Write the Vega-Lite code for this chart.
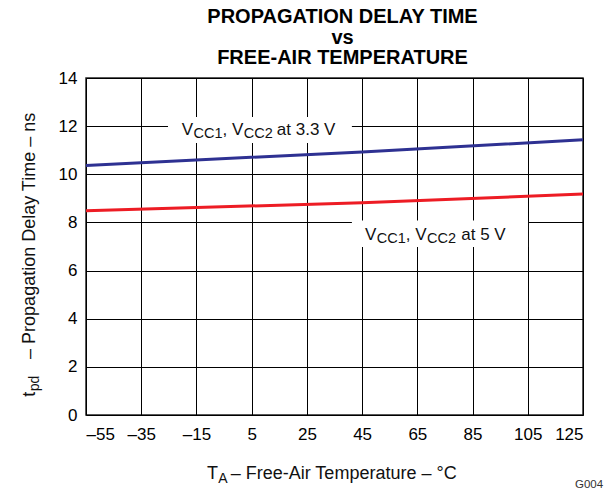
{
  "$schema": "https://vega.github.io/schema/vega-lite/v6.json",
  "width": 497,
  "height": 337,
  "autosize": {"type": "none"},
  "padding": {"left": 86, "top": 78, "right": 33, "bottom": 76},
  "background": "white",
  "title": {
    "text": ["PROPAGATION DELAY TIME", "vs", "FREE-AIR TEMPERATURE"],
    "font": "Liberation Sans",
    "fontSize": 20,
    "fontWeight": "bold",
    "lineHeight": 20.5,
    "anchor": "middle",
    "frame": "group",
    "dx": 8,
    "offset": 1,
    "color": "black"
  },
  "config": {
    "font": "Liberation Sans",
    "view": {"stroke": "#222222", "strokeWidth": 1.5},
    "axis": {
      "grid": true,
      "gridColor": "black",
      "gridWidth": 1,
      "gridOpacity": 1,
      "ticks": false,
      "domain": false,
      "labelFont": "Liberation Sans",
      "labelFontSize": 17,
      "labelColor": "black",
      "title": null
    },
    "axisX": {"labelPadding": 11},
    "axisY": {"labelPadding": 9}
  },
  "datasets": {
    "lines": [
      {"x": -55, "y": 10.37, "series": "VCC1, VCC2 at 3.3 V"},
      {"x": 45, "y": 10.93, "series": "VCC1, VCC2 at 3.3 V"},
      {"x": 125, "y": 11.43, "series": "VCC1, VCC2 at 3.3 V"},
      {"x": -55, "y": 8.48, "series": "VCC1, VCC2 at 5 V"},
      {"x": 45, "y": 8.82, "series": "VCC1, VCC2 at 5 V"},
      {"x": 125, "y": 9.18, "series": "VCC1, VCC2 at 5 V"}
    ],
    "boxes": [
      {"x": -25.3, "x2": 41.3, "y": 11.3, "y2": 12.38},
      {"x": 41.3, "x2": 105.1, "y": 6.98, "y2": 8.08}
    ],
    "texts": [
      {"g": "ann", "sub": false, "t": "V", "x": -20.3, "y": 11.63},
      {"g": "ann", "sub": true, "t": "CC1", "x": -16.03, "y": 11.63},
      {"g": "ann", "sub": false, "t": ",", "x": -5.52, "y": 11.63},
      {"g": "ann", "sub": false, "t": "V", "x": -2.12, "y": 11.63},
      {"g": "ann", "sub": true, "t": "CC2", "x": 2.16, "y": 11.63},
      {"g": "ann", "sub": false, "t": "at 3.3 V", "x": 14.11, "y": 11.63},
      {"g": "ann", "sub": false, "t": "V", "x": 46.05, "y": 7.27},
      {"g": "ann", "sub": true, "t": "CC1", "x": 50.32, "y": 7.27},
      {"g": "ann", "sub": false, "t": ",", "x": 60.83, "y": 7.27},
      {"g": "ann", "sub": false, "t": "V", "x": 64.23, "y": 7.27},
      {"g": "ann", "sub": true, "t": "CC2", "x": 68.51, "y": 7.27},
      {"g": "ann", "sub": false, "t": "at 5 V", "x": 80.9, "y": 7.27},
      {"g": "ytitle", "sub": false, "t": "t", "x": -73.5, "y": 0.76},
      {"g": "ytitle", "sub": true, "t": "pd", "x": -73.5, "y": 0.99},
      {"g": "ytitle", "sub": false, "t": "– Propagation Delay Time – ns", "x": -73.5, "y": 2.33},
      {"g": "xtitle", "sub": false, "t": "T", "x": -11.2, "y": -2.66},
      {"g": "xtitle", "sub": true, "t": "A", "x": -7.1, "y": -2.66},
      {"g": "xtitle", "sub": false, "t": "– Free-Air Temperature – °C", "x": -2.6, "y": -2.66},
      {"g": "code", "sub": false, "t": "G004", "x": 122.1, "y": -3.03}
    ]
  },
  "encoding": {
    "x": {
      "field": "x", "type": "quantitative",
      "scale": {"domain": [-55, 125], "nice": false, "zero": false},
      "axis": {"values": [-55, -35, -15, 5, 25, 45, 65, 85, 105, 125], "labelExpr": "datum.value < 0 ? '–' + abs(datum.value) : datum.label", "title": null}
    },
    "y": {
      "field": "y", "type": "quantitative",
      "scale": {"domain": [0, 14], "nice": false, "zero": false},
      "axis": {"values": [0, 2, 4, 6, 8, 10, 12, 14], "title": null}
    }
  },
  "layer": [
    {
      "data": {"name": "boxes"},
      "mark": {"type": "rect", "fill": "white", "stroke": null},
      "encoding": {
        "x2": {"field": "x2"},
        "y2": {"field": "y2"}
      }
    },
    {
      "data": {"name": "lines"},
      "mark": {"type": "line", "strokeWidth": 3},
      "encoding": {
        "color": {
          "field": "series", "type": "nominal",
          "scale": {"domain": ["VCC1, VCC2 at 3.3 V", "VCC1, VCC2 at 5 V"], "range": ["#2e3192", "#ed1c24"]},
          "legend": null
        }
      }
    },
    {
      "data": {"name": "texts"},
      "transform": [{"filter": "datum.g == 'ann' && !datum.sub"}],
      "mark": {"type": "text", "align": "left", "baseline": "alphabetic", "fontSize": 17, "color": "#111111"},
      "encoding": {"text": {"field": "t"}}
    },
    {
      "data": {"name": "texts"},
      "transform": [{"filter": "datum.g == 'ann' && datum.sub"}],
      "mark": {"type": "text", "align": "left", "baseline": "alphabetic", "fontSize": 14.5, "dy": 3, "color": "#111111"},
      "encoding": {"text": {"field": "t"}}
    },
    {
      "data": {"name": "texts"},
      "transform": [{"filter": "datum.g == 'ytitle' && !datum.sub"}],
      "mark": {"type": "text", "align": "left", "baseline": "alphabetic", "angle": 270, "fontSize": 18, "color": "#111111"},
      "encoding": {"text": {"field": "t"}}
    },
    {
      "data": {"name": "texts"},
      "transform": [{"filter": "datum.g == 'ytitle' && datum.sub"}],
      "mark": {"type": "text", "align": "left", "baseline": "alphabetic", "angle": 270, "fontSize": 14, "dy": 4, "color": "#111111"},
      "encoding": {"text": {"field": "t"}}
    },
    {
      "data": {"name": "texts"},
      "transform": [{"filter": "datum.g == 'xtitle' && !datum.sub"}],
      "mark": {"type": "text", "align": "left", "baseline": "alphabetic", "fontSize": 18, "color": "#111111"},
      "encoding": {"text": {"field": "t"}}
    },
    {
      "data": {"name": "texts"},
      "transform": [{"filter": "datum.g == 'xtitle' && datum.sub"}],
      "mark": {"type": "text", "align": "left", "baseline": "alphabetic", "fontSize": 14, "dy": 4, "color": "#111111"},
      "encoding": {"text": {"field": "t"}}
    },
    {
      "data": {"name": "texts"},
      "transform": [{"filter": "datum.g == 'code'"}],
      "mark": {"type": "text", "align": "left", "baseline": "alphabetic", "fontSize": 11.5, "color": "#333333"},
      "encoding": {"text": {"field": "t"}}
    }
  ]
}
